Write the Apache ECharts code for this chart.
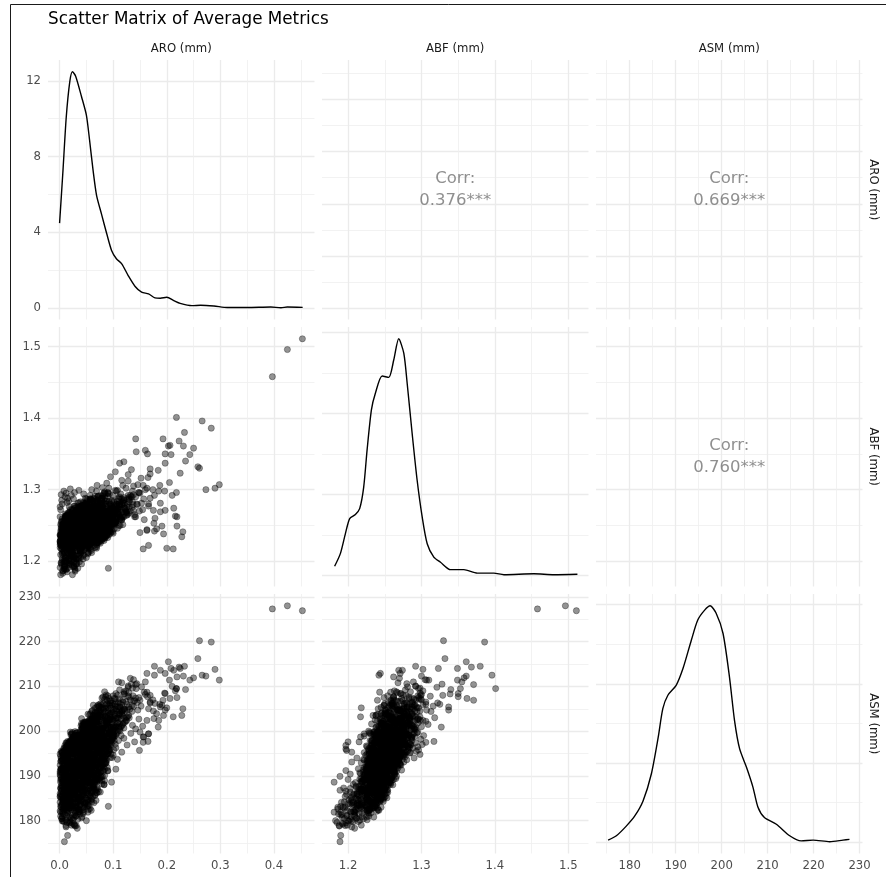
<!DOCTYPE html>
<html><head><meta charset="utf-8">
<script src="https://cdn.jsdelivr.net/npm/echarts@6/dist/echarts.min.js"></script>
<style>html,body{margin:0;padding:0;background:#fff}#c{width:886px;height:877px}</style>
</head><body><div id="c"></div>
<script>
const variables = ['ARO (mm)', 'ABF (mm)', 'ASM (mm)'];
const corrPairs = [[0, 1], [0, 2], [1, 2]];
const corrValues = ['0.376***', '0.669***', '0.760***'];

// observations: [ARO, ABF, ASM] — outer / sparse points
const samplesOuter = [
[0.397,1.458,227.3],[0.425,1.496,228.0],[0.453,1.511,226.9],
[0.261,1.330,220.2],[0.283,1.386,219.9],[0.258,1.332,216.2],
[0.197,1.271,212.9],[0.219,1.262,212.1],[0.231,1.361,212.3],[0.266,1.396,212.5],[0.273,1.300,212.3],[0.290,1.302,213.8],[0.163,1.244,212.9],[0.177,1.242,212.5],[0.188,1.269,213.6],[0.213,1.274,213.6],[0.208,1.349,214.0],[0.177,1.292,214.5],[0.223,1.368,214.3],[0.225,1.323,214.0],[0.233,1.380,214.5],[0.203,1.361,215.5],
[0.105,1.271,208.4],[0.112,1.278,209.2],[0.120,1.285,208.8],[0.128,1.292,210.1],[0.136,1.298,209.6],[0.144,1.280,210.6],[0.138,1.305,211.5],[0.153,1.281,209.9],[0.210,1.292,210.0],[0.218,1.296,209.5],[0.205,1.310,211.4],[0.235,1.340,209.3],[0.243,1.349,211.4],[0.250,1.358,211.9],[0.298,1.307,211.4],[0.116,1.268,210.8],[0.124,1.302,209.0],[0.132,1.270,211.8],[0.110,1.289,211.0],[0.160,1.300,208.2],
[0.143,1.353,209.5],[0.120,1.339,208.3],[0.160,1.355,211.0],[0.164,1.350,207.7],[0.112,1.337,205.4],[0.169,1.329,208.0],[0.142,1.371,210.4],[0.095,1.318,203.0],[0.104,1.325,206.0],[0.128,1.321,209.8],[0.088,1.309,201.5],[0.116,1.313,204.4],[0.134,1.328,210.5],[0.080,1.303,199.0],[0.070,1.306,202.2],
[0.004,1.285,195.2],[0.010,1.290,194.0],[0.028,1.296,195.8],[0.022,1.292,197.4],[0.036,1.299,198.2],[0.045,1.294,199.6],[0.060,1.300,201.0],[0.014,1.282,195.9],
[0.003,1.293,195.5],[0.008,1.298,194.8],[0.015,1.288,196.2],[0.005,1.280,193.6],[0.020,1.301,197.0],[0.012,1.295,196.5],[0.026,1.287,197.9],[0.001,1.276,194.9],[0.017,1.284,195.1],
[0.228,1.234,203.5],[0.230,1.241,205.0],[0.212,1.217,203.2],[0.200,1.218,205.2],
[0.187,1.306,206.0],[0.174,1.300,207.0],[0.196,1.298,208.5],[0.169,1.288,206.5],[0.166,1.277,205.0],[0.175,1.271,204.5],[0.178,1.260,206.2],[0.191,1.249,205.8],[0.216,1.263,209.0],[0.219,1.249,207.5],
[0.009,1.189,175.3],[0.015,1.190,176.7],[0.012,1.188,178.9],[0.031,1.196,178.9],[0.019,1.200,180.0],[0.006,1.183,180.0],[0.050,1.205,180.0],[0.024,1.192,179.4],[0.028,1.199,179.0],[0.020,1.207,179.7],[0.004,1.195,180.5],[0.034,1.203,180.3],
[0.053,1.210,181.9],[0.038,1.215,181.5],[0.044,1.230,182.4],[0.059,1.226,182.3],[0.053,1.212,183.4],[0.091,1.190,183.2],[0.002,1.181,181.9],[0.006,1.186,182.6],[0.010,1.193,183.0],[0.013,1.199,181.2],[0.017,1.203,182.1],[0.021,1.208,183.6],[0.025,1.214,182.8],[0.029,1.219,181.7],[0.031,1.224,183.1],[0.035,1.229,182.5],[0.040,1.226,183.8],[0.003,1.221,183.5],[0.008,1.232,182.9],[0.014,1.228,182.2],[0.019,1.233,183.9],[0.026,1.236,183.3],[0.033,1.240,184.0],[0.047,1.238,183.6],[0.064,1.232,184.0],[0.011,1.205,184.0],[0.005,1.212,183.7],[0.022,1.195,184.2],[0.037,1.208,182.0],[0.042,1.219,180.9],[0.030,1.228,181.0],[0.016,1.225,180.8],
[0.006,1.187,181.5],[0.018,1.195,182.8],[0.011,1.201,184.6],[0.027,1.192,180.7],[0.003,1.198,185.9],[0.021,1.206,183.5],[0.014,1.185,179.6],[0.032,1.203,186.4],[0.009,1.194,187.3],[0.024,1.209,181.2],[0.001,1.191,184.1],[0.037,1.199,182.3],[0.016,1.207,188.1],[0.029,1.186,183.0],[0.005,1.204,180.9],[0.041,1.196,185.4],[0.012,1.189,186.8],[0.020,1.212,186.0],[0.034,1.190,181.9],[0.008,1.200,189.2],
[0.001,1.219,186.0],[0.004,1.226,185.2],[0.007,1.233,187.4],[0.009,1.241,184.6],[0.012,1.222,186.8],[0.015,1.229,185.5],[0.018,1.237,187.9],[0.020,1.244,184.3],[0.023,1.218,187.1],[0.026,1.231,186.3],[0.028,1.239,184.9],[0.031,1.247,186.7],[0.034,1.224,188.0],[0.036,1.235,185.8],[0.039,1.242,187.3],[0.042,1.228,184.4],[0.045,1.236,186.5],[0.048,1.245,185.1],[0.051,1.233,187.6],[0.055,1.240,184.8],[0.058,1.248,186.2],[0.062,1.237,187.8],[0.066,1.244,185.6],[0.071,1.250,187.0],[0.076,1.241,186.4],[0.083,1.247,188.0],[0.003,1.197,186.6],[0.010,1.204,185.0],[0.016,1.211,187.7],[0.024,1.181,188.6],[0.027,1.208,186.0],[0.035,1.214,184.6],[0.044,1.203,187.2],[0.013,1.243,186.1],[0.021,1.252,187.5],[0.006,1.248,184.8],[0.030,1.226,185.3],[0.040,1.219,186.9],[0.053,1.226,184.1],[0.060,1.230,186.9],[0.068,1.234,184.5],[0.002,1.236,187.2],[0.017,1.220,184.2],[0.033,1.232,187.0],[0.047,1.252,187.9],
[0.002,1.224,189.1],[0.004,1.231,190.6],[0.006,1.238,191.8],[0.008,1.245,188.4],[0.010,1.252,190.2],[0.012,1.227,191.3],[0.014,1.234,188.8],[0.016,1.241,190.9],[0.018,1.248,189.5],[0.020,1.255,191.6],[0.022,1.229,190.0],[0.024,1.236,188.2],[0.026,1.243,191.1],[0.028,1.250,189.8],[0.030,1.257,191.9],[0.032,1.232,188.6],[0.034,1.239,190.4],[0.036,1.246,191.5],[0.038,1.253,189.3],[0.040,1.226,191.0],[0.042,1.233,189.7],[0.044,1.240,188.3],[0.046,1.247,190.7],[0.048,1.254,192.0],[0.050,1.230,189.2],[0.053,1.237,190.5],[0.056,1.244,191.7],[0.059,1.251,188.9],[0.062,1.258,190.3],[0.065,1.235,191.4],[0.068,1.242,189.6],[0.071,1.249,190.8],[0.075,1.256,191.9],[0.079,1.238,189.0],[0.084,1.245,190.1],[0.090,1.252,191.2],[0.097,1.243,188.6],[0.105,1.258,191.5],[0.001,1.262,191.0],[0.011,1.266,189.9],[0.027,1.263,190.6],[0.043,1.268,191.8],[0.009,1.189,189.9],[0.019,1.197,191.2],[0.031,1.203,190.4],[0.005,1.210,188.5],[0.041,1.214,191.6],[0.015,1.218,189.4],[0.025,1.221,191.4],[0.055,1.225,190.9],[0.035,1.228,188.9],[0.066,1.260,189.1],[0.003,1.245,191.5],[0.013,1.258,188.1],[0.023,1.248,190.7],[0.037,1.222,190.1],[0.049,1.241,189.9],[0.058,1.233,188.4],[0.072,1.229,190.0],[0.082,1.262,191.0],
[0.001,1.228,192.4],[0.003,1.235,193.9],[0.005,1.242,195.2],[0.007,1.249,192.8],[0.009,1.256,194.5],[0.011,1.263,195.8],[0.013,1.231,193.3],[0.015,1.238,194.9],[0.017,1.245,192.2],[0.019,1.252,193.7],[0.021,1.259,195.4],[0.023,1.266,192.6],[0.025,1.234,194.1],[0.027,1.241,195.6],[0.029,1.248,193.0],[0.031,1.255,194.7],[0.033,1.262,192.1],[0.035,1.269,193.5],[0.037,1.237,195.0],[0.039,1.244,192.9],[0.041,1.251,194.3],[0.043,1.258,195.9],[0.045,1.265,193.2],[0.047,1.240,194.6],[0.049,1.247,192.5],[0.051,1.254,193.8],[0.053,1.261,195.3],[0.055,1.268,192.3],[0.057,1.243,194.0],[0.059,1.250,195.5],[0.061,1.257,193.4],[0.063,1.264,194.8],[0.065,1.271,192.7],[0.067,1.246,193.6],[0.069,1.253,195.1],[0.071,1.260,194.2],[0.074,1.267,195.7],[0.077,1.249,193.1],[0.080,1.256,194.4],[0.083,1.263,195.6],[0.086,1.270,193.9],[0.090,1.252,195.0],[0.095,1.259,194.1],[0.101,1.266,195.8],[0.108,1.274,193.7],[0.116,1.279,195.3],[0.002,1.272,194.4],[0.018,1.276,193.1],[0.034,1.281,195.5],[0.052,1.277,194.7],[0.012,1.205,193.1],[0.026,1.198,195.7],[0.008,1.197,196.0],[0.038,1.212,194.0],[0.020,1.218,192.9],[0.044,1.222,195.2],[0.006,1.224,194.6],[0.030,1.227,192.4],[0.058,1.229,193.3],[0.072,1.232,194.9],[0.014,1.239,193.5],[0.040,1.243,192.0],[0.064,1.236,195.4],[0.048,1.258,194.2],[0.024,1.266,195.0],
[0.012,1.233,196.4],[0.016,1.240,197.3],[0.019,1.247,196.8],[0.022,1.254,198.0],[0.025,1.261,197.1],[0.028,1.268,198.5],[0.031,1.275,196.2],[0.033,1.236,199.0],[0.035,1.243,197.6],[0.037,1.250,198.8],[0.039,1.257,196.6],[0.041,1.264,199.4],[0.043,1.271,197.9],[0.045,1.278,198.3],[0.047,1.239,199.7],[0.049,1.246,196.9],[0.051,1.253,198.1],[0.053,1.260,199.2],[0.055,1.267,197.4],[0.057,1.274,198.7],[0.059,1.242,199.9],[0.061,1.249,197.0],[0.063,1.256,198.4],[0.065,1.263,199.5],[0.067,1.270,196.5],[0.069,1.277,197.8],[0.071,1.245,198.9],[0.073,1.252,199.8],[0.075,1.259,197.2],[0.077,1.266,198.2],[0.079,1.273,199.3],[0.082,1.280,196.7],[0.085,1.248,197.7],[0.088,1.255,198.6],[0.091,1.262,199.6],[0.094,1.269,197.5],[0.097,1.276,198.0],[0.101,1.283,199.1],[0.105,1.258,196.3],[0.110,1.265,197.9],[0.115,1.272,199.0],[0.120,1.286,198.4],[0.126,1.279,196.9],[0.133,1.290,199.5],[0.140,1.262,197.6],[0.149,1.270,195.7],[0.156,1.306,197.5],[0.165,1.317,197.7],[0.150,1.295,199.8],[0.157,1.287,198.7],[0.166,1.280,199.4],[0.018,1.215,197.6],[0.021,1.200,197.6],[0.014,1.197,196.8],[0.027,1.205,195.3],[0.034,1.222,198.9],[0.046,1.228,196.1],[0.060,1.231,199.3],[0.024,1.238,198.6],[0.040,1.232,197.2],[0.052,1.286,197.0],[0.066,1.291,198.8],[0.078,1.284,196.4],[0.044,1.262,196.0],[0.058,1.247,198.5],[0.030,1.255,199.0],[0.086,1.235,199.9],
[0.040,1.243,200.3],[0.043,1.250,201.2],[0.046,1.257,200.8],[0.049,1.264,201.9],[0.052,1.271,200.1],[0.055,1.278,202.4],[0.058,1.285,201.5],[0.061,1.246,202.8],[0.064,1.253,200.6],[0.067,1.260,203.1],[0.070,1.267,201.7],[0.073,1.274,202.2],[0.076,1.281,203.6],[0.079,1.288,200.4],[0.082,1.249,201.4],[0.085,1.256,203.3],[0.088,1.263,202.0],[0.091,1.270,200.9],[0.094,1.277,203.9],[0.097,1.284,202.6],[0.100,1.252,201.0],[0.103,1.259,203.4],[0.106,1.266,200.2],[0.109,1.273,202.9],[0.112,1.280,201.6],[0.116,1.287,203.7],[0.120,1.262,200.7],[0.125,1.269,202.3],[0.130,1.276,203.0],[0.136,1.283,201.3],[0.142,1.290,200.5],[0.148,1.296,202.7],[0.155,1.272,201.1],[0.163,1.302,202.4],[0.176,1.253,202.8],[0.185,1.298,202.4],[0.181,1.245,203.9],[0.194,1.238,203.5],[0.166,1.222,199.4],[0.156,1.217,198.7],[0.184,1.327,200.9],[0.050,1.232,201.6],[0.062,1.228,200.0],[0.074,1.238,203.5],[0.057,1.292,200.9],[0.069,1.298,203.2],[0.083,1.295,201.8],[0.047,1.268,202.1],[0.053,1.240,203.8],[0.078,1.259,200.1],[0.092,1.245,202.5],[0.099,1.292,200.3],[0.066,1.276,204.0],[0.113,1.250,204.0],
[0.070,1.256,204.3],[0.074,1.263,205.5],[0.078,1.270,204.8],[0.082,1.277,206.2],[0.086,1.284,205.1],[0.090,1.291,204.5],[0.094,1.259,206.7],[0.098,1.266,205.8],[0.102,1.273,207.3],[0.106,1.280,204.9],[0.110,1.287,206.4],[0.114,1.294,205.2],[0.118,1.262,207.0],[0.122,1.269,204.6],[0.126,1.276,206.0],[0.130,1.283,207.6],[0.135,1.290,205.7],[0.084,1.297,207.1],[0.092,1.302,205.9],[0.100,1.254,207.9],[0.108,1.299,208.0],[0.076,1.250,206.1],[0.140,1.265,206.8],[0.146,1.307,204.7],[0.188,1.281,205.4],[0.197,1.337,204.7],[0.193,1.371,206.9],[0.206,1.362,207.3],[0.197,1.350,208.4],[0.218,1.401,209.5],[0.163,1.243,208.7],[0.150,1.240,206.9],[0.158,1.258,208.7],[0.142,1.262,207.4],[0.118,1.306,206.5],[0.128,1.312,207.8],[0.152,1.316,205.6],[0.169,1.322,206.3]
];

// observations: [ARO, ABF, ASM] — dense core, part 1
const samplesCore = [
[0.012,1.205,178.6],[0.027,1.193,179.2],[0.008,1.214,179.8],[0.033,1.209,178.3],[0.018,1.197,179.5],[0.022,1.218,179.0],[0.005,1.201,179.9],[0.029,1.188,178.8],
[0.004,1.221,180.4],[0.031,1.198,181.1],[0.015,1.231,181.7],[0.041,1.212,180.6],[0.009,1.192,181.4],[0.025,1.226,180.2],[0.036,1.204,181.9],[0.002,1.209,181.0],[0.019,1.235,180.8],[0.044,1.228,181.6],[0.012,1.216,180.1],[0.028,1.190,181.3],[0.006,1.227,181.8],[0.022,1.211,180.5],
[0.017,1.222,182.3],[0.043,1.234,182.9],[0.005,1.239,183.5],[0.029,1.207,182.1],[0.051,1.219,183.2],[0.011,1.200,183.8],[0.036,1.229,182.6],[0.023,1.215,183.4],[0.001,1.226,182.2],[0.047,1.238,183.9],[0.014,1.233,182.7],[0.032,1.196,183.1],[0.008,1.211,182.4],[0.039,1.223,183.6],[0.020,1.240,182.8],[0.054,1.227,182.5],[0.026,1.203,183.7],[0.003,1.217,183.0],[0.045,1.209,182.0],[0.016,1.236,183.3],[0.034,1.220,184.0],[0.010,1.230,182.9],
[0.006,1.232,184.2],[0.041,1.214,184.7],[0.019,1.245,185.3],[0.058,1.229,184.5],[0.027,1.207,185.8],[0.003,1.240,184.9],[0.049,1.237,185.1],[0.013,1.221,185.6],[0.035,1.248,184.3],[0.022,1.226,185.9],[0.062,1.241,185.4],[0.009,1.212,184.8],[0.044,1.223,185.7],[0.030,1.234,184.1],[0.016,1.239,185.2],[0.053,1.218,184.6],[0.001,1.228,185.5],[0.038,1.243,184.4],[0.025,1.210,185.0],[0.011,1.235,185.8],[0.047,1.231,184.0],[0.020,1.217,184.9],[0.033,1.226,185.3],[0.056,1.246,185.6],[0.007,1.244,184.6],[0.039,1.205,185.2],[0.015,1.230,184.3],[0.028,1.238,185.9],[0.060,1.225,184.8],[0.024,1.247,185.1],
[0.014,1.238,186.1],[0.052,1.224,186.6],[0.031,1.251,187.2],[0.068,1.236,186.3],[0.005,1.217,187.8],[0.042,1.245,186.9],[0.021,1.229,187.4],[0.060,1.212,186.2],[0.009,1.248,187.0],[0.036,1.233,187.7],[0.073,1.241,186.5],[0.018,1.220,187.5],[0.047,1.254,186.8],[0.026,1.227,186.0],[0.002,1.236,187.3],[0.057,1.230,187.9],[0.033,1.215,186.4],[0.011,1.243,186.7],[0.064,1.249,187.1],[0.039,1.222,187.6],[0.016,1.232,186.2],[0.045,1.239,187.8],[0.024,1.253,186.9],[0.070,1.226,187.4],[0.007,1.228,186.3],[0.050,1.218,187.0],[0.029,1.242,187.5],[0.013,1.250,186.6],[0.055,1.245,186.1],[0.037,1.231,187.2],[0.004,1.222,186.8],[0.062,1.237,187.7],[0.020,1.214,187.1],[0.043,1.227,186.4],[0.027,1.247,187.9],[0.066,1.219,186.7],[0.010,1.234,187.6],[0.034,1.240,186.0],
[0.023,1.244,188.2],[0.061,1.229,188.7],[0.004,1.256,189.3],[0.040,1.237,188.5],[0.077,1.249,189.8],[0.015,1.222,188.9],[0.052,1.259,189.5],[0.031,1.233,188.1],[0.008,1.241,189.0],[0.069,1.218,188.6],[0.046,1.252,189.7],[0.019,1.227,189.2],[0.036,1.246,188.4],[0.002,1.231,189.9],[0.057,1.240,189.1],[0.027,1.255,188.8],[0.073,1.235,189.4],[0.012,1.248,188.3],[0.049,1.224,189.6],[0.034,1.239,189.0],[0.065,1.257,188.5],[0.021,1.216,189.3],[0.006,1.251,188.7],[0.043,1.230,189.8],[0.079,1.243,188.2],[0.017,1.236,189.5],[0.054,1.247,188.9],[0.029,1.221,189.2],[0.010,1.260,189.7],[0.038,1.226,188.1],[0.071,1.253,189.0],[0.025,1.242,189.6],[0.047,1.234,188.6],[0.003,1.238,189.4],[0.060,1.225,189.9],[0.032,1.250,188.3],[0.014,1.229,188.8],[0.067,1.245,189.1],[0.041,1.258,189.3],[0.018,1.233,188.0],[0.055,1.219,188.4],[0.008,1.245,189.8],[0.075,1.231,189.5],[0.028,1.237,188.7],
[0.011,1.249,190.1],[0.047,1.232,190.6],[0.029,1.261,191.2],[0.070,1.244,190.4],[0.003,1.226,191.7],[0.056,1.255,191.0],[0.021,1.238,190.8],[0.084,1.247,191.5],[0.038,1.223,190.2],[0.015,1.258,191.9],[0.063,1.235,190.7],[0.007,1.242,191.3],[0.044,1.264,190.5],[0.032,1.229,191.6],[0.076,1.252,190.9],[0.019,1.245,191.1],[0.051,1.227,191.8],[0.025,1.253,190.3],[0.001,1.236,190.6],[0.067,1.259,191.4],[0.040,1.241,191.0],[0.013,1.230,190.2],[0.059,1.248,191.7],[0.034,1.262,190.8],[0.081,1.233,191.2],[0.009,1.254,190.4],[0.048,1.239,191.9],[0.023,1.224,191.5],[0.072,1.246,190.0],[0.036,1.257,191.3],[0.005,1.243,190.7],[0.054,1.221,190.9],[0.027,1.250,191.6],[0.062,1.237,190.1],[0.017,1.263,191.1],[0.043,1.234,190.5],[0.078,1.256,191.8],[0.030,1.228,190.3],[0.002,1.251,191.4],[0.065,1.242,191.0],[0.046,1.260,190.6],[0.012,1.235,191.7],[0.058,1.231,190.2],[0.024,1.247,191.9],[0.069,1.225,191.3],[0.037,1.253,190.8],[0.006,1.232,191.5],[0.052,1.244,190.0],
[0.018,1.253,192.1],[0.055,1.236,192.6],[0.034,1.268,193.2],[0.079,1.247,192.4],[0.007,1.230,193.7],[0.062,1.259,193.0],[0.026,1.242,192.8],[0.088,1.264,193.5],[0.044,1.227,192.2],[0.012,1.262,193.9],[0.070,1.239,192.7],[0.004,1.250,193.3],[0.050,1.271,192.5],[0.038,1.233,193.6],[0.083,1.256,192.9],[0.022,1.248,193.1],[0.059,1.229,193.8],[0.030,1.265,192.3],[0.009,1.244,192.6],[0.074,1.257,193.4],[0.047,1.238,193.0],[0.015,1.234,192.2],[0.066,1.252,193.7],[0.040,1.270,192.8],[0.086,1.241,193.2],[0.011,1.259,192.4],[0.053,1.245,193.9],[0.028,1.226,193.5],[0.077,1.249,192.0],[0.042,1.263,193.3],[0.006,1.237,192.7],[0.061,1.226,192.9],[0.033,1.255,193.6],[0.068,1.243,192.1],[0.020,1.267,193.1],[0.049,1.231,192.5],[0.082,1.261,193.8],[0.036,1.246,192.3],[0.003,1.254,193.4],[0.072,1.235,193.0],[0.052,1.266,192.6],[0.016,1.240,193.7],[0.064,1.232,192.2],[0.029,1.251,193.9],[0.075,1.228,193.3],[0.043,1.258,192.8],[0.010,1.236,193.5],[0.057,1.249,192.0],[0.024,1.262,193.1],[0.046,1.240,193.6],[0.081,1.253,192.4],[0.014,1.247,192.9],
[0.021,1.257,194.1],[0.060,1.240,194.6],[0.038,1.273,195.2],[0.085,1.251,194.4],[0.010,1.233,195.7],[0.068,1.264,195.0],[0.029,1.246,194.8],[0.093,1.269,195.5],[0.048,1.230,194.2],[0.016,1.267,195.9],[0.075,1.243,194.7],[0.006,1.255,195.3],[0.054,1.276,194.5],[0.042,1.237,195.6],[0.089,1.261,194.9],[0.025,1.252,195.1],[0.064,1.234,195.8],[0.033,1.270,194.3],[0.012,1.248,194.6],[0.079,1.262,195.4],[0.051,1.242,195.0],[0.018,1.239,194.2],[0.071,1.257,195.7],[0.045,1.275,194.8],[0.091,1.245,195.2],[0.014,1.264,194.4],[0.057,1.250,195.9],[0.031,1.231,195.5],[0.082,1.254,194.0],[0.046,1.268,195.3],[0.008,1.241,194.7],[0.066,1.229,194.9],[0.036,1.260,195.6],[0.073,1.248,194.1],[0.023,1.272,195.1],[0.053,1.236,194.5],[0.087,1.266,195.8],[0.040,1.251,194.3],[0.005,1.259,195.4],[0.077,1.239,195.0],[0.056,1.271,194.6],[0.019,1.244,195.7],[0.069,1.236,194.2],[0.032,1.256,195.9],[0.080,1.232,195.3],[0.047,1.263,194.8],[0.013,1.240,195.5],[0.062,1.253,194.0],[0.027,1.267,195.1],[0.050,1.245,195.6],[0.086,1.258,194.4],[0.017,1.250,194.9],[0.035,1.277,195.2],[0.058,1.265,194.7],[0.044,1.228,195.8],[0.072,1.270,195.4],
[0.025,1.261,196.1],[0.064,1.244,196.6],[0.042,1.278,197.2],[0.090,1.256,196.4],[0.015,1.237,197.7],[0.073,1.269,197.0],[0.033,1.251,196.8],[0.098,1.274,197.5],[0.052,1.234,196.2],[0.020,1.272,197.9],[0.080,1.248,196.7],[0.013,1.260,197.3],[0.058,1.282,196.5],[0.046,1.241,197.6],[0.094,1.266,196.9],[0.029,1.257,197.1],[0.068,1.239,197.8],[0.037,1.276,196.3],[0.017,1.253,196.6],[0.084,1.267,197.4],[0.055,1.247,197.0],[0.023,1.243,196.2],[0.076,1.262,197.7],[0.049,1.281,196.8],[0.096,1.250,197.2],[0.019,1.269,196.4],[0.061,1.255,197.9],[0.035,1.236,197.5],[0.087,1.259,196.0],[0.050,1.273,197.3],[0.014,1.246,196.7],[0.071,1.233,196.9],[0.040,1.265,197.6],[0.078,1.253,196.1],[0.027,1.277,197.1],[0.057,1.240,196.5],[0.092,1.271,197.8],[0.044,1.256,196.3],[0.012,1.264,197.4],[0.082,1.244,197.0],[0.060,1.276,196.6],[0.024,1.249,197.7],[0.074,1.241,196.2],[0.036,1.261,197.9],[0.085,1.237,197.3],[0.051,1.268,196.8],[0.018,1.245,197.5],[0.066,1.258,196.0],[0.031,1.272,197.1],[0.054,1.250,197.6],[0.091,1.263,196.4],[0.021,1.255,196.9],[0.039,1.283,197.2],[0.063,1.270,196.7],[0.048,1.232,197.8],[0.077,1.275,197.4],[0.030,1.266,196.2],[0.069,1.285,197.0],
[0.034,1.265,198.1],[0.073,1.248,198.6],[0.051,1.283,199.2],[0.099,1.260,198.4],[0.024,1.241,199.7],[0.082,1.274,199.0],[0.042,1.255,198.8],[0.107,1.279,199.5],[0.061,1.238,198.2],[0.029,1.277,199.9],[0.089,1.252,198.7],[0.023,1.265,199.3],[0.067,1.287,198.5],[0.055,1.245,199.6],[0.103,1.271,198.9],[0.038,1.262,199.1],[0.077,1.243,199.8],[0.046,1.281,198.3],[0.027,1.258,198.6],[0.093,1.272,199.4],[0.064,1.251,199.0],[0.032,1.247,198.2],[0.085,1.267,199.7],[0.058,1.286,198.8],[0.105,1.255,199.2],[0.028,1.274,198.4],[0.070,1.260,199.9],[0.044,1.240,199.5],[0.096,1.264,198.0],[0.059,1.278,199.3],[0.025,1.250,198.7],[0.080,1.237,198.9],[0.049,1.270,199.6],[0.087,1.258,198.1],[0.036,1.282,199.1],[0.066,1.245,198.5],[0.101,1.276,199.8],[0.053,1.261,198.3],[0.022,1.269,199.4],[0.091,1.249,199.0],[0.069,1.281,198.6],[0.033,1.254,199.7],[0.083,1.246,198.2],[0.045,1.266,199.9],[0.094,1.242,199.3],[0.060,1.273,198.8],[0.030,1.250,199.5],[0.075,1.263,198.0],[0.040,1.277,199.1],[0.063,1.255,199.6],[0.100,1.268,198.4],[0.031,1.259,198.9],[0.048,1.288,199.2],[0.072,1.275,198.7],[0.057,1.236,199.8],[0.086,1.280,199.4],
[0.047,1.270,200.1],[0.086,1.253,200.6],[0.064,1.288,201.2],[0.112,1.265,200.4],[0.041,1.246,201.7],[0.095,1.279,201.0],[0.055,1.260,200.8],[0.118,1.284,201.5],[0.074,1.243,200.2],[0.044,1.282,201.9],[0.102,1.257,200.7],[0.049,1.270,201.3],[0.080,1.291,200.5],[0.068,1.250,201.6],[0.114,1.276,200.9],[0.051,1.267,201.1],[0.090,1.248,201.8],[0.059,1.286,200.3],[0.043,1.263,200.6],[0.106,1.277,201.4],[0.077,1.256,201.0],[0.045,1.252,200.2],[0.098,1.272,201.7],[0.071,1.290,200.8],[0.116,1.260,201.2],[0.048,1.279,200.4],[0.083,1.265,201.9],[0.057,1.245,201.5],[0.109,1.269,200.0],[0.072,1.283,201.3],[0.042,1.255,200.7],[0.093,1.242,200.9],[0.062,1.275,201.6],[0.100,1.263,200.1],[0.050,1.287,201.1],[0.079,1.250,200.5],[0.119,1.281,201.8],[0.066,1.266,200.3],[0.046,1.274,201.4],[0.104,1.254,201.0],[0.082,1.286,200.6],[0.053,1.259,201.7],[0.096,1.251,200.2],[0.060,1.271,201.9],
[0.061,1.275,202.1],[0.099,1.258,202.6],[0.077,1.292,203.2],[0.124,1.270,202.4],[0.056,1.251,203.7],[0.108,1.284,203.0],[0.068,1.265,202.8],[0.129,1.289,203.5],[0.087,1.248,202.2],[0.058,1.287,203.9],[0.115,1.262,202.7],[0.063,1.275,203.3],[0.093,1.294,202.5],[0.081,1.255,203.6],[0.121,1.281,202.9],[0.065,1.272,203.1],[0.103,1.253,203.8],[0.072,1.291,202.3],[0.059,1.268,202.6],[0.118,1.282,203.4],[0.090,1.261,203.0],[0.060,1.257,202.2],[0.111,1.277,203.7],[0.084,1.295,202.8],[0.127,1.265,203.2],[0.062,1.284,202.4],[0.096,1.270,203.9],[0.070,1.250,203.5],[0.122,1.274,202.0],[0.085,1.288,203.3],[0.057,1.260,202.7],[0.106,1.279,202.9],
[0.075,1.280,204.1],[0.112,1.263,204.6],[0.090,1.296,205.2],[0.135,1.275,204.4],[0.071,1.257,205.7],[0.120,1.289,205.0],[0.082,1.270,204.8],[0.138,1.293,205.5],[0.100,1.254,204.2],[0.073,1.291,205.9],[0.126,1.267,204.7],[0.078,1.280,205.3],[0.106,1.298,204.5],[0.094,1.260,205.6],[0.131,1.286,204.9],[0.080,1.276,205.1],[0.116,1.258,205.8],[0.086,1.294,204.3],[0.074,1.272,204.6],[0.129,1.287,205.4],[0.103,1.266,205.0],[0.077,1.262,204.2],
[0.088,1.284,206.1],[0.124,1.268,206.6],[0.104,1.299,207.2],[0.145,1.279,206.4],[0.086,1.262,207.7],[0.132,1.292,207.0],[0.096,1.274,206.8],[0.148,1.296,207.5],[0.113,1.260,206.2],[0.090,1.295,207.9],[0.138,1.271,206.7],[0.092,1.283,207.3]
];

// observations: [ARO, ABF, ASM] — dense core, part 2
const samplesCore2 = [
[0.031,1.241,182.4],[0.008,1.213,183.9],[0.052,1.228,184.6],[0.019,1.236,182.9],[0.044,1.207,184.1],[0.002,1.225,183.2],[0.027,1.244,184.8],[0.057,1.219,182.7],[0.013,1.231,184.4],[0.038,1.215,183.5],[0.005,1.239,182.1],[0.049,1.234,183.8],[0.022,1.210,182.5],[0.035,1.226,184.9],[0.010,1.245,183.0],[0.060,1.238,184.2],[0.016,1.218,183.6],[0.041,1.242,182.3],[0.025,1.222,184.0],[0.054,1.212,183.3],[0.007,1.233,184.7],[0.029,1.229,182.8],[0.046,1.237,183.1],[0.018,1.205,184.5],
[0.037,1.249,185.2],[0.011,1.223,186.7],[0.063,1.238,187.4],[0.024,1.212,185.9],[0.050,1.254,186.3],[0.003,1.230,187.8],[0.042,1.219,185.5],[0.068,1.246,186.9],[0.016,1.241,187.2],[0.030,1.226,185.0],[0.056,1.233,187.6],[0.007,1.252,186.1],[0.045,1.243,185.7],[0.020,1.216,187.0],[0.061,1.229,186.5],[0.034,1.255,187.9],[0.001,1.237,185.3],[0.053,1.221,186.8],[0.027,1.248,187.3],[0.066,1.235,185.8],[0.012,1.228,186.0],[0.040,1.211,187.5],[0.058,1.251,185.4],[0.022,1.240,186.6],[0.047,1.227,187.1],[0.005,1.245,185.6],[0.033,1.234,187.7],[0.070,1.223,186.2],[0.018,1.253,185.1],[0.038,1.217,186.4],[0.064,1.242,187.8],[0.009,1.220,186.9],[0.044,1.250,185.9],[0.026,1.232,187.0],[0.052,1.244,186.1],[0.014,1.214,185.6],[0.035,1.239,186.3],[0.059,1.215,187.6],[0.029,1.247,186.8],[0.004,1.226,187.4],
[0.042,1.255,188.3],[0.015,1.229,189.6],[0.071,1.244,190.4],[0.028,1.218,188.9],[0.057,1.262,189.2],[0.004,1.236,190.8],[0.049,1.224,188.5],[0.080,1.251,189.9],[0.020,1.247,190.1],[0.035,1.232,188.2],[0.064,1.239,190.6],[0.010,1.259,189.4],[0.053,1.249,188.7],[0.025,1.221,190.3],[0.075,1.235,189.0],[0.039,1.264,190.9],[0.002,1.242,188.6],[0.060,1.227,189.8],[0.031,1.253,190.5],[0.083,1.241,188.1],[0.017,1.233,189.3],[0.046,1.216,190.7],[0.067,1.257,188.8],[0.026,1.246,189.5],[0.055,1.230,190.2],[0.008,1.250,188.4],[0.038,1.238,190.0],[0.078,1.228,189.7],[0.022,1.261,188.0],[0.044,1.222,189.1],[0.072,1.248,190.6],[0.013,1.226,189.9],[0.051,1.256,188.6],[0.030,1.237,190.4],[0.062,1.245,189.3],[0.019,1.219,188.8],[0.040,1.243,190.1],[0.069,1.220,189.0],[0.033,1.252,190.8],[0.006,1.231,189.2],[0.048,1.263,190.3],[0.084,1.232,188.9],[0.024,1.240,189.7],[0.058,1.217,190.5],[0.036,1.258,188.4],[0.011,1.245,190.0],[0.065,1.234,188.2],[0.043,1.228,189.6],[0.077,1.254,190.9],[0.018,1.252,189.1],[0.054,1.241,188.7],[0.001,1.223,190.2],[0.029,1.265,189.4],[0.073,1.226,190.7],[0.047,1.236,189.8],
[0.049,1.259,191.3],[0.019,1.234,192.6],[0.078,1.249,193.4],[0.034,1.222,191.9],[0.063,1.267,192.2],[0.006,1.241,193.8],[0.055,1.229,191.5],[0.087,1.256,192.9],[0.025,1.252,193.1],[0.041,1.237,191.2],[0.071,1.244,193.6],[0.013,1.264,192.4],[0.060,1.254,191.7],[0.030,1.226,193.3],[0.082,1.240,192.0],[0.045,1.270,193.9],[0.003,1.247,191.6],[0.067,1.232,192.8],[0.037,1.258,193.5],[0.090,1.246,191.1],[0.021,1.238,192.3],[0.052,1.221,193.7],[0.074,1.262,191.8],[0.032,1.251,192.5],[0.061,1.235,193.2],[0.010,1.255,191.4],[0.044,1.243,193.0],[0.085,1.233,192.7],[0.027,1.266,191.0],[0.050,1.227,192.1],[0.079,1.253,193.6],[0.016,1.231,192.9],[0.057,1.261,191.6],[0.036,1.242,193.4],[0.068,1.250,192.3],[0.023,1.224,191.8],[0.047,1.248,193.1],[0.076,1.225,192.0],[0.039,1.257,193.8],[0.008,1.236,192.2],[0.054,1.268,193.3],[0.089,1.237,191.9],[0.028,1.245,192.7],[0.064,1.222,193.5],[0.042,1.263,191.4],[0.014,1.250,193.0],[0.072,1.239,191.2],[0.048,1.233,192.6],[0.084,1.259,193.9],[0.022,1.257,192.1],[0.059,1.246,191.7],[0.002,1.228,193.2],[0.033,1.272,192.4],[0.081,1.231,193.7],[0.053,1.241,192.8],[0.017,1.262,193.6],[0.070,1.255,192.5],[0.038,1.230,191.5],[0.011,1.244,191.1],[0.066,1.265,193.1],[0.046,1.252,192.0],[0.086,1.248,192.9],[0.024,1.228,193.8],[0.058,1.273,191.3],[0.031,1.235,193.3],
[0.055,1.263,194.3],[0.023,1.238,195.6],[0.085,1.253,196.4],[0.040,1.226,194.9],[0.070,1.271,195.2],[0.010,1.245,196.8],[0.061,1.233,194.5],[0.094,1.260,195.9],[0.030,1.256,196.1],[0.047,1.241,194.2],[0.078,1.248,196.6],[0.017,1.268,195.4],[0.066,1.258,194.7],[0.036,1.230,196.3],[0.089,1.244,195.0],[0.051,1.274,196.9],[0.007,1.251,194.6],[0.073,1.236,195.8],[0.043,1.262,196.5],[0.098,1.250,194.1],[0.027,1.242,195.3],[0.058,1.225,196.7],[0.081,1.266,194.8],[0.038,1.255,195.5],[0.068,1.239,196.2],[0.014,1.259,194.4],[0.050,1.247,196.0],[0.092,1.237,195.7],[0.033,1.270,194.0],[0.056,1.231,195.1],[0.086,1.257,196.6],[0.021,1.235,195.9],[0.063,1.265,194.6],[0.042,1.246,196.4],[0.075,1.254,195.3],[0.029,1.228,194.8],[0.053,1.252,196.1],[0.083,1.229,195.0],[0.045,1.261,196.8],[0.012,1.240,195.2],[0.060,1.272,196.3],[0.096,1.241,194.9],[0.034,1.249,195.7],[0.071,1.226,196.5],[0.048,1.267,194.4],[0.019,1.254,196.0],[0.079,1.243,194.2],[0.054,1.237,195.6],[0.091,1.263,196.9],[0.028,1.261,195.1],[0.065,1.250,194.7],[0.008,1.232,196.2],[0.039,1.276,195.4],[0.088,1.235,196.7],[0.059,1.245,195.8],[0.024,1.266,196.6],[0.076,1.259,195.5],[0.044,1.234,194.5],[0.016,1.248,194.1],[0.072,1.269,196.1],[0.052,1.256,195.0],[0.093,1.252,195.9],[0.031,1.232,196.8],[0.064,1.278,194.3],[0.037,1.239,196.3],[0.082,1.273,195.2],[0.011,1.262,195.8],[0.069,1.282,196.4],[0.049,1.229,195.6],[0.100,1.268,194.6],
[0.062,1.267,197.3],[0.029,1.242,198.6],[0.092,1.257,199.4],[0.046,1.230,197.9],[0.077,1.275,198.2],[0.020,1.249,199.8],[0.068,1.237,197.5],[0.101,1.264,198.9],[0.037,1.260,199.1],[0.054,1.245,197.2],[0.085,1.252,199.6],[0.025,1.272,198.4],[0.073,1.262,197.7],[0.043,1.234,199.3],[0.096,1.248,198.0],[0.058,1.278,199.9],[0.022,1.255,197.6],[0.080,1.240,198.8],[0.050,1.266,199.5],[0.104,1.254,197.1],[0.034,1.246,198.3],[0.065,1.229,199.7],[0.088,1.270,197.8],[0.045,1.259,198.5],[0.075,1.243,199.2],[0.027,1.263,197.4],[0.057,1.251,199.0],[0.099,1.241,198.7],[0.040,1.274,197.0],[0.063,1.235,198.1],[0.093,1.261,199.6],[0.031,1.239,198.9],[0.070,1.269,197.6],[0.049,1.250,199.4],[0.082,1.258,198.3],[0.036,1.232,197.8],[0.060,1.256,199.1],[0.090,1.233,198.0],[0.052,1.265,199.8],[0.024,1.244,198.2],[0.067,1.276,199.3],[0.102,1.245,197.9],[0.041,1.253,198.7],[0.078,1.230,199.5],[0.055,1.271,197.4],[0.030,1.258,199.0],[0.086,1.247,197.2],[0.061,1.241,198.6],[0.097,1.267,199.9],[0.035,1.265,198.1],[0.072,1.254,197.7],[0.021,1.236,199.2],[0.047,1.280,198.4],[0.095,1.239,199.7],[0.066,1.249,198.8],[0.032,1.270,199.6],[0.083,1.263,198.5],[0.051,1.238,197.5],[0.026,1.252,197.1],[0.079,1.273,199.1],[0.059,1.260,198.0],[0.100,1.256,198.9],[0.038,1.236,199.8],[0.071,1.284,197.3],[0.044,1.243,199.3],
[0.069,1.271,200.3],[0.045,1.247,201.6],[0.099,1.262,202.4],[0.058,1.245,200.9],[0.087,1.280,201.2],[0.041,1.254,202.8],[0.076,1.242,200.5],[0.110,1.269,201.9],[0.052,1.265,202.1],[0.063,1.250,200.2],[0.094,1.257,202.6],[0.043,1.277,201.4],[0.082,1.267,200.7],[0.056,1.240,202.3],[0.106,1.253,201.0],[0.066,1.283,202.9],[0.042,1.260,200.6],[0.089,1.245,201.8],[0.060,1.271,202.5],[0.113,1.259,200.1],[0.048,1.251,201.3],[0.074,1.244,202.7],[0.097,1.275,200.8],[0.054,1.263,201.5],[0.085,1.248,202.2],[0.044,1.268,200.4],[0.068,1.256,202.0],[0.108,1.246,201.7],[0.051,1.279,200.0],[0.072,1.241,201.1],[0.102,1.266,202.6],[0.047,1.244,201.9],[0.079,1.274,200.6],[0.059,1.255,202.4],[0.091,1.263,201.3],[0.046,1.238,200.8],[0.070,1.261,202.1],[0.100,1.239,201.0],[0.062,1.270,202.8],[0.040,1.249,201.2],[0.078,1.286,202.3],[0.111,1.250,200.9],[0.053,1.258,201.7],[0.088,1.237,202.5],[0.065,1.276,200.4],[0.049,1.264,202.0],[0.095,1.252,200.2],[0.071,1.246,201.6],[0.105,1.272,202.9],[0.057,1.287,201.4],
[0.080,1.276,203.3],[0.061,1.252,204.6],[0.109,1.267,205.4],[0.071,1.250,203.9],[0.098,1.285,204.2],[0.063,1.259,205.8],[0.088,1.247,203.5],[0.121,1.274,204.9],[0.066,1.270,205.1],[0.076,1.255,203.2],[0.104,1.262,205.6],[0.060,1.282,204.4],[0.093,1.272,203.7],[0.069,1.245,205.3],[0.116,1.258,204.0],[0.078,1.288,205.9],[0.064,1.264,203.6],[0.101,1.250,204.8],[0.073,1.276,205.5],[0.125,1.264,203.1],[0.067,1.256,204.3],[0.086,1.249,205.7],[0.111,1.280,203.8],[0.072,1.268,204.5],[0.096,1.254,205.2],[0.062,1.273,203.4],[0.083,1.261,205.0],[0.118,1.251,204.7],[0.070,1.284,203.0],[0.091,1.246,204.1],
[0.094,1.280,206.3],[0.081,1.262,207.6],[0.121,1.272,208.4],[0.089,1.258,206.9],[0.112,1.290,207.2],[0.084,1.266,208.8],[0.105,1.255,206.5],[0.137,1.279,207.9],[0.087,1.275,208.1],[0.099,1.262,206.2],[0.129,1.267,208.6],[0.079,1.287,207.4]
];
const samples = samplesOuter.concat(samplesCore, samplesCore2);

// kernel density curves: [value, density]
const aroDensity = [[0.000,4.48],[0.006,7.1],[0.0125,10.1],[0.019,11.95],[0.024,12.48],[0.030,12.25],[0.041,11.16],[0.050,10.19],[0.056,8.86],[0.0625,7.27],[0.069,5.95],[0.078,4.98],[0.088,3.92],[0.097,3.04],[0.106,2.6],[0.116,2.33],[0.128,1.71],[0.141,1.13],[0.153,0.83],[0.166,0.74],[0.178,0.53],[0.188,0.51],[0.200,0.56],[0.213,0.39],[0.225,0.24],[0.247,0.12],[0.263,0.14],[0.288,0.10],[0.313,0.02],[0.350,0.02],[0.394,0.05],[0.413,0.01],[0.425,0.05],[0.4535,0.03]];
const abfDensity = [[1.1817,0.58],[1.1895,1.36],[1.1963,2.58],[1.2022,3.52],[1.210,3.77],[1.2158,4.13],[1.2213,5.46],[1.2259,7.74],[1.2318,10.22],[1.2372,11.24],[1.2464,12.31],[1.2554,12.22],[1.2622,13.29],[1.269,14.6],[1.2759,13.71],[1.2805,11.86],[1.2873,8.76],[1.2941,5.88],[1.301,3.61],[1.3078,1.97],[1.3168,1.14],[1.3259,0.83],[1.3396,0.37],[1.3577,0.37],[1.376,0.16],[1.3986,0.16],[1.4123,0.06],[1.4532,0.12],[1.4805,0.06],[1.5124,0.09]];
const asmDensity = [[175.3,0.0005],[177.1,0.0016],[179.3,0.0041],[181.1,0.0066],[182.9,0.0104],[184.7,0.0172],[186.2,0.0265],[187.2,0.0337],[188.3,0.0371],[190.1,0.0396],[191.6,0.0439],[193.4,0.0510],[194.8,0.0561],[196.3,0.0586],[197.5,0.0597],[198.8,0.0578],[200.3,0.0527],[201.7,0.0417],[202.8,0.0307],[203.9,0.0236],[205.4,0.0189],[206.8,0.0139],[207.9,0.0088],[209.3,0.0062],[211.9,0.0045],[214.8,0.0016],[217.3,0.0003],[219.9,0.0005],[223.5,0.0001],[226.4,0.0005],[227.8,0.0007]];
const densities = [aroDensity, abfDensity, asmDensity];

// tick values
const varMajor = [[0, 0.1, 0.2, 0.3, 0.4], [1.2, 1.3, 1.4, 1.5], [180, 190, 200, 210, 220, 230]];
const varMinor = [[0.05, 0.15, 0.25, 0.35, 0.45], [1.25, 1.35, 1.45], [175, 185, 195, 205, 215, 225]];
const densMajor = [[0, 4, 8, 12], [0, 5, 10, 15], [0, 0.02, 0.04, 0.06]];
const densMinor = [[2, 6, 10], [2.5, 7.5, 12.5], [0.01, 0.03, 0.05]];
const labelDigits = [1, 1, 0];

// layout
const colLeft = [48, 322, 596], colW = 266.5;
const rowTop = [60, 327, 594], rowH = 259.5;
const FONT = 'DejaVu Sans';

function expand(vals) {
  const mn = Math.min(...vals), mx = Math.max(...vals), p = 0.05 * (mx - mn);
  return [mn - p, mx + p];
}
const varRange = [0, 1, 2].map(k => expand(samples.map(s => s[k])));
const densRange = densities.map(d => expand(d.map(p => p[1])));

const labelStyle = { fontFamily: FONT, fontSize: 11.7, color: '#4D4D4D' };

function mainAxis(g, r, ticks, showLabel, fmt, pos) {
  return {
    type: 'value', gridIndex: g, position: pos, min: r[0], max: r[1],
    axisLine: { show: false },
    axisTick: { show: false, customValues: ticks },
    axisLabel: Object.assign({ show: showLabel, customValues: ticks, formatter: fmt,
      margin: pos === 'bottom' ? 6 : 7 }, labelStyle),
    splitLine: { show: true, lineStyle: { color: '#EBEBEB', width: 1.3 } },
    minorSplitLine: { show: false }
  };
}
function minorAxis(g, r, ticks, pos) {
  return {
    type: 'value', gridIndex: g, position: pos, min: r[0], max: r[1],
    axisLine: { show: false },
    axisTick: { show: false, customValues: ticks },
    axisLabel: { show: false, customValues: ticks },
    splitLine: { show: true, lineStyle: { color: '#EFEFEF', width: 0.8 } }
  };
}

const grids = [], xAxes = [], yAxes = [], series = [];
for (let i = 0; i < 3; i++) {
  for (let j = 0; j < 3; j++) {
    const g = i * 3 + j;
    grids.push({ left: colLeft[j], top: rowTop[i], width: colW, height: rowH,
      containLabel: false, outerBoundsMode: 'none' });
    const xr = varRange[j];
    const yr = i === j ? densRange[i] : varRange[i];
    const yMaj = i === j ? densMajor[i] : varMajor[i];
    const yMin = i === j ? densMinor[i] : varMinor[i];
    const fx = v => Number(v).toFixed(labelDigits[j]);
    const fy = i === j ? (v => String(v)) : (v => Number(v).toFixed(labelDigits[i]));
    xAxes.push(mainAxis(g, xr, varMajor[j], i === 2, fx, 'bottom'));
    xAxes.push(minorAxis(g, xr, varMinor[j], 'top'));
    yAxes.push(mainAxis(g, yr, yMaj, j === 0, fy, 'left'));
    yAxes.push(minorAxis(g, yr, yMin, 'right'));
    const ax = 2 * g;
    if (i === j) {
      series.push({ type: 'line', xAxisIndex: ax, yAxisIndex: ax, data: densities[i],
        showSymbol: false, smooth: 0.25, lineStyle: { color: '#000', width: 1.4 }, silent: true, z: 3 });
    } else if (i > j) {
      series.push({ type: 'scatter', xAxisIndex: ax, yAxisIndex: ax,
        data: samples.map(s => [s[j], s[i]]), symbolSize: 6.2, large: false, largeThreshold: 100000,
        itemStyle: { color: 'rgba(0,0,0,0.53)', borderColor: 'rgba(0,0,0,0.47)', borderWidth: 0.8 },
        silent: true, z: 3 });
    } else {
      const k = corrPairs.findIndex(p => p[0] === i && p[1] === j);
      series.push({ type: 'scatter', xAxisIndex: ax, yAxisIndex: ax,
        data: [[(xr[0] + xr[1]) / 2, (yr[0] + yr[1]) / 2]], symbolSize: 1,
        itemStyle: { color: 'rgba(0,0,0,0)' },
        label: { show: true, position: 'inside', formatter: 'Corr:\n' + corrValues[k],
          fontFamily: FONT, fontSize: 16.5, lineHeight: 22, color: '#737373', align: 'center' },
        silent: true, z: 4 });
    }
  }
}

const graphics = [{ type: 'rect', silent: true, shape: { x: 10.5, y: 4.5, width: 900, height: 900 },
  style: { fill: 'none', stroke: '#1a1a1a', lineWidth: 1 } }];
for (let j = 0; j < 3; j++) {
  graphics.push({ type: 'text', silent: true, x: colLeft[j] + colW / 2, y: 49,
    style: { text: variables[j], fontFamily: FONT, fontSize: 11.7, fill: '#1A1A1A',
      align: 'center', verticalAlign: 'middle', textAlign: 'center', textVerticalAlign: 'middle' } });
}
for (let i = 0; i < 3; i++) {
  graphics.push({ type: 'text', silent: true, x: 873, y: rowTop[i] + rowH / 2, rotation: -Math.PI / 2,
    style: { text: variables[i], fontFamily: FONT, fontSize: 11.7, fill: '#1A1A1A',
      align: 'center', verticalAlign: 'middle', textAlign: 'center', textVerticalAlign: 'middle' } });
}

const chart = echarts.init(document.getElementById('c'), null, { width: 886, height: 877 });
chart.setOption({
  backgroundColor: '#fff',
  animation: false,
  title: { text: 'Scatter Matrix of Average Metrics', left: 48, top: 11, padding: 0,
    textStyle: { fontFamily: FONT, fontSize: 16.8, fontWeight: 'normal', color: '#000' } },
  grid: grids, xAxis: xAxes, yAxis: yAxes, series: series, graphic: graphics
});
</script></body></html>
